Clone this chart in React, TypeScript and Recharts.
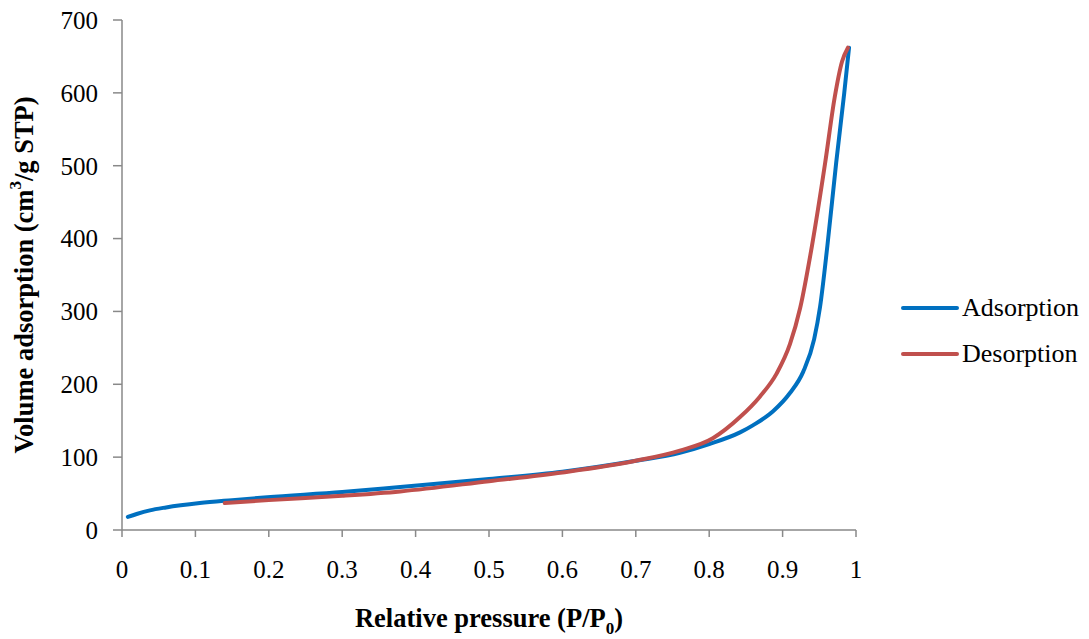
import React from 'react';
import { LineChart, Line, XAxis, YAxis, Label } from 'recharts';

const adsorption = [
  { p: 0.008, v: 18 },
  { p: 0.02, v: 22 },
  { p: 0.038, v: 27 },
  { p: 0.06, v: 31 },
  { p: 0.106, v: 37 },
  { p: 0.15, v: 41 },
  { p: 0.198, v: 45 },
  { p: 0.3, v: 52 },
  { p: 0.379, v: 59 },
  { p: 0.5, v: 70 },
  { p: 0.6, v: 80 },
  { p: 0.7, v: 95 },
  { p: 0.76, v: 106 },
  { p: 0.8, v: 118 },
  { p: 0.842, v: 134 },
  { p: 0.86, v: 144 },
  { p: 0.887, v: 163 },
  { p: 0.91, v: 188 },
  { p: 0.928, v: 217 },
  { p: 0.943, v: 262 },
  { p: 0.951, v: 306 },
  { p: 0.961, v: 390 },
  { p: 0.973, v: 504 },
  { p: 0.984, v: 600 },
  { p: 0.9905, v: 662 },
];

const desorption = [
  { p: 0.14, v: 37 },
  { p: 0.2, v: 41 },
  { p: 0.3, v: 47 },
  { p: 0.379, v: 53 },
  { p: 0.5, v: 67 },
  { p: 0.6, v: 79 },
  { p: 0.7, v: 95 },
  { p: 0.76, v: 109 },
  { p: 0.805, v: 126 },
  { p: 0.842, v: 155 },
  { p: 0.869, v: 183 },
  { p: 0.892, v: 215 },
  { p: 0.91, v: 255 },
  { p: 0.924, v: 305 },
  { p: 0.94, v: 390 },
  { p: 0.958, v: 504 },
  { p: 0.971, v: 594 },
  { p: 0.981, v: 643 },
  { p: 0.989, v: 662 },
];

const xTicks = [0, 0.1, 0.2, 0.3, 0.4, 0.5, 0.6, 0.7, 0.8, 0.9, 1];
const yTicks = [0, 100, 200, 300, 400, 500, 600, 700];

const seriesNames = ['Adsorption', 'Desorption'];

const FONT = '"Liberation Serif", "Times New Roman", serif';
const AXIS = '#898989';
const BLUE = '#0070C0';
const RED = '#C0504D';

const YTitle = (props: any) => {
  const vb = props.viewBox || {};
  const cy = vb.y + vb.height / 2;
  const cx = 24;
  return (
    <text
      x={cx}
      y={cy}
      transform={`rotate(-90, ${cx}, ${cy})`}
      textAnchor="middle"
      dominantBaseline="central"
      fontFamily={FONT}
      fontWeight="bold"
      fontSize={26.5}
      fill="#000"
    >
      Volume adsorption (cm<tspan dy={-9} fontSize={17}>3</tspan>
      <tspan dy={9}>/g STP)</tspan>
    </text>
  );
};

const XTitle = (props: any) => {
  const vb = props.viewBox || {};
  const cx = vb.x + vb.width / 2;
  return (
    <text
      x={cx}
      y={627}
      textAnchor="middle"
      fontFamily={FONT}
      fontWeight="bold"
      fontSize={26.5}
      fill="#000"
    >
      Relative pressure (P/P<tspan dy={7} fontSize={17}>0</tspan>
      <tspan dy={-7}>)</tspan>
    </text>
  );
};

export default function App() {
  const colors = [BLUE, RED];
  return (
    <div style={{ position: 'absolute', left: 0, top: 0, width: 1089, height: 639, background: '#fff' }}>
      <LineChart width={1089} height={639} margin={{ top: 20, right: 233, bottom: 0, left: 0 }}>
        <XAxis
          type="number"
          dataKey="p"
          domain={[0, 1]}
          ticks={xTicks}
          interval={0}
          height={109}
          tickSize={7}
          tickMargin={23}
          stroke={AXIS}
          strokeWidth={1.5}
          tick={{ fill: '#000', fontFamily: FONT, fontSize: 25 }}
          tickFormatter={(v: number) => String(v)}
          allowDataOverflow
        >
          <Label content={<XTitle />} />
        </XAxis>
        <YAxis
          type="number"
          dataKey="v"
          domain={[0, 700]}
          ticks={yTicks}
          interval={0}
          width={122}
          tickSize={9}
          tickMargin={15}
          stroke={AXIS}
          strokeWidth={1.5}
          tick={{ fill: '#000', fontFamily: FONT, fontSize: 25 }}
        >
          <Label content={<YTitle />} />
        </YAxis>
        <Line
          data={adsorption}
          dataKey="v"
          name={seriesNames[0]}
          type="monotone"
          stroke={BLUE}
          strokeWidth={4}
          strokeLinecap="round"
          dot={false}
          isAnimationActive={false}
        />
        <Line
          data={desorption}
          dataKey="v"
          name={seriesNames[1]}
          type="monotone"
          stroke={RED}
          strokeWidth={4}
          strokeLinecap="round"
          dot={false}
          isAnimationActive={false}
        />
      </LineChart>
      <div
        style={{
          position: 'absolute',
          left: 901,
          top: 285,
          fontFamily: FONT,
          fontSize: 26,
          color: '#000',
        }}
      >
        {seriesNames.map((name, i) => (
          <div key={name} style={{ display: 'flex', alignItems: 'center', height: 46 }}>
            <svg width={58} height={10} style={{ marginRight: 3 }}>
              <line x1={2} y1={5} x2={56} y2={5} stroke={colors[i]} strokeWidth={4} strokeLinecap="round" />
            </svg>
            <span>{name}</span>
          </div>
        ))}
      </div>
    </div>
  );
}
